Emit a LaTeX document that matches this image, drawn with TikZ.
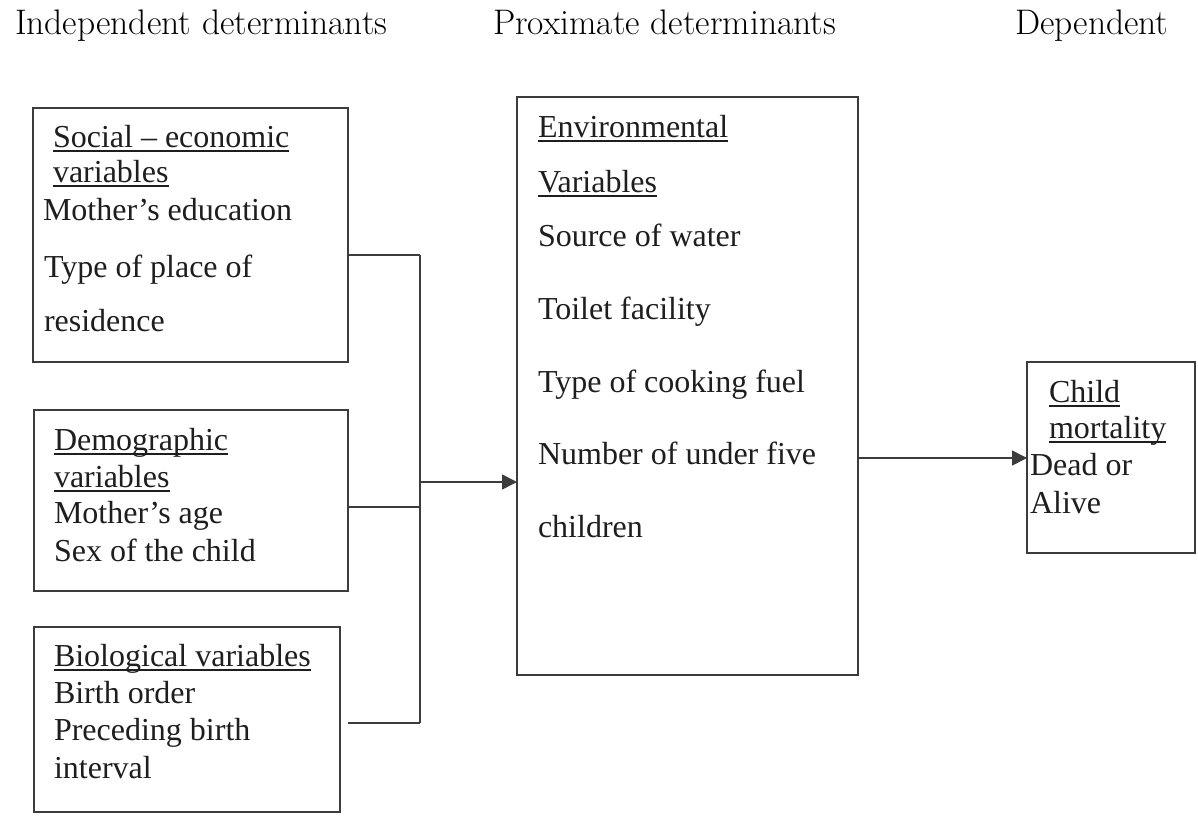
\documentclass[tikz,border=0pt]{standalone}
\usepackage{fontspec}
\newfontfamily\tnr{Liberation Serif}
\usetikzlibrary{arrows.meta}
\definecolor{linec}{RGB}{60,60,60}
\definecolor{textc}{RGB}{30,30,30}
\newcommand\myul[1]{\sbox0{#1}\rlap{\rule[-4.6pt]{\wd0}{1.3pt}}#1}
\begin{document}
\begin{tikzpicture}[x=1pt,y=-1pt,
  boxst/.style={draw=linec, line width=1.5pt, inner sep=0pt, outer sep=0pt, anchor=north west},
  txt/.style={anchor=base west, inner sep=0pt, outer sep=0pt, text=textc, font=\tnr\fontsize{32}{36}\selectfont},
  hdr/.style={anchor=base west, inner sep=0pt, outer sep=0pt, text=black, font=\fontsize{35.5}{40}\selectfont},
  conn/.style={draw=linec, line width=1.5pt},
  arr/.style={conn, -{Triangle[length=15pt,width=15pt]}}]
\useasboundingbox (0,0) rectangle (1198,816);
% headers
\node[hdr] (h1) at (15,35) {Independent determinants};
\node[hdr] (h2) at (493,35) {Proximate determinants};
\node[hdr] (h3) at (1015,35) {Dependent};
% boxes
\node[boxst, minimum width=315pt, minimum height=254pt] (b1) at (33,108) {};
\node[boxst, minimum width=314pt, minimum height=181pt] (b2) at (34,410) {};
\node[boxst, minimum width=306pt, minimum height=185pt] (b3) at (34,627) {};
\node[boxst, minimum width=341pt, minimum height=578pt] (env) at (517,97) {};
\node[boxst, minimum width=168pt, minimum height=191pt] (child) at (1027,362) {};
% box 1 text
\foreach \x/\y/\t [count=\i] in {53/147/{\myul{Social – economic}}, 53/182/{\myul{variables}}, 43/220/{Mother’s education}, 44/277/{Type of place of}, 44/331/{residence}}
  \node[txt] (s1-\i) at (\x,\y) {\t};
% box 2 text
\foreach \x/\y/\t [count=\i] in {54/450/{\myul{Demographic}}, 54/487/{\myul{variables}}, 54/523/{Mother’s age}, 54/561/{Sex of the child}}
  \node[txt] (s2-\i) at (\x,\y) {\t};
% box 3 text
\foreach \x/\y/\t [count=\i] in {54/666/{\myul{Biological variables}}, 54/703/{Birth order}, 54/740/{Preceding birth}, 54/778/{interval}}
  \node[txt] (s3-\i) at (\x,\y) {\t};
% environmental text
\foreach \x/\y/\t [count=\i] in {538/137/{\myul{Environmental}}, 538/192/{\myul{Variables}}, 538/246/{Source of water}, 538/319/{Toilet facility}, 538/392/{Type of cooking fuel}, 538/464/{Number of under five}, 538/537/{children}}
  \node[txt] (s4-\i) at (\x,\y) {\t};
% child text
\foreach \x/\y/\t [count=\i] in {1049/402/{\myul{Child}}, 1049/438/{\myul{mortality}}, 1030/475/{Dead or}, 1030/513/{Alive}}
  \node[txt] (s5-\i) at (\x,\y) {\t};
% connectors
\coordinate (j1) at (420,255);
\coordinate (j2) at (420,507);
\coordinate (j3) at (420,723);
\coordinate (jm) at (420,482);
\coordinate (s3out) at (348,723);
\coordinate (ro) at (858,458);
\draw[conn] (b1.east |- j1) -- (j1);
\draw[conn] (b2.east |- j2) -- (j2);
\draw[conn] (s3out) -- (j3);
\draw[conn] (j1) -- (j3);
\draw[arr] (jm) -- (env.west |- jm);
\draw[arr] (env.east |- ro) -- (child.west |- ro);
\end{tikzpicture}
\end{document}
